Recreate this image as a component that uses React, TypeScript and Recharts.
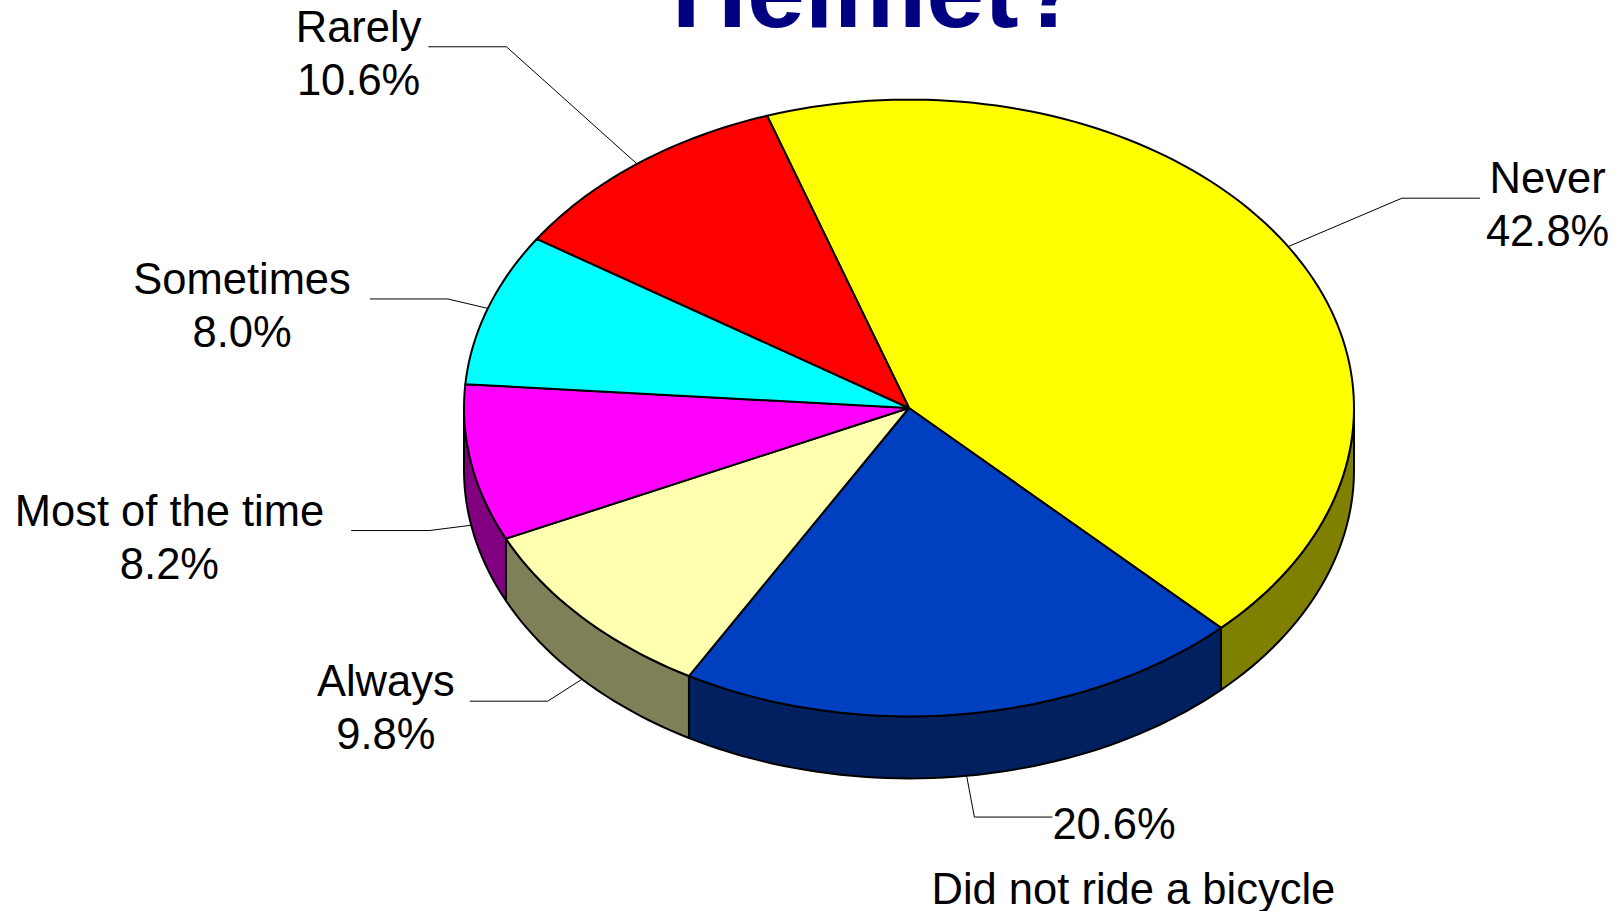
import { PieChart, Pie, Cell } from "recharts";

const categories = ["Never", "Did not ride a bicycle", "Always", "Most of the time", "Sometimes", "Rarely"];
const shares = [42.8, 20.6, 9.8, 8.2, 8.0, 10.6];
const topColors = ["#FFFF00", "#0040C0", "#FFFFB0", "#FF00FF", "#00FFFF", "#FF0000"];
const sideColors = ["#808000", "#002060", "#808058", "#800080", "#008080", "#800000"];

const data = categories.map((name, i) => ({ name, value: shares[i] }));

const W = 1617;
const H = 911;
const CX = 909;
const CY = 408;
const RX = 445;
const TILT = 0.693; // ry / rx of the tilted disc
const DEPTH = 62;
const START = 108.6;
const FONT = '"Liberation Sans", Arial, sans-serif';
const FS = 43.5;

// leader line layout: how far the line runs out past the rim, which side the text sits
const labelLayout = [
  { pull: 0.3, dir: 1, gap: 6, below: false },
  { pull: 0.135, dir: 1, gap: 0, below: true },
  { pull: 0.105, dir: -1, gap: 15, below: false },
  { pull: 0.096, dir: -1, gap: 27, below: false },
  { pull: 0.095, dir: -1, gap: 19, below: false },
  { pull: 0.48, dir: -1, gap: 7, below: false },
];

const RAD = Math.PI / 180;

function rim(cx: number, cy: number, r: number, deg: number, drop = 0): [number, number] {
  return [cx + r * Math.cos(deg * RAD), cy - r * TILT * Math.sin(deg * RAD) + drop];
}

function arc(cx: number, cy: number, r: number, from: number, to: number, drop = 0) {
  const n = Math.max(2, Math.ceil(Math.abs(to - from) / 1.5));
  const pts: [number, number][] = [];
  for (let i = 0; i <= n; i++) pts.push(rim(cx, cy, r, from + ((to - from) * i) / n, drop));
  return pts;
}

const toPath = (pts: [number, number][]) =>
  pts.map(([x, y], i) => `${i ? "L" : "M"}${x.toFixed(2)},${y.toFixed(2)}`).join(" ");

let ctx: CanvasRenderingContext2D | null = null;
function textWidth(s: string) {
  if (!ctx) ctx = document.createElement("canvas").getContext("2d");
  if (!ctx) return s.length * FS * 0.5;
  ctx.font = `${FS}px ${FONT}`;
  return ctx.measureText(s).width;
}

function sliceIndex(props: any) {
  const name = props.payload?.name ?? props.name;
  const i = categories.indexOf(name);
  return i >= 0 ? i : props.index ?? 0;
}

function Wedge3D(props: any) {
  const { cx, cy, outerRadius, startAngle, endAngle, fill } = props;
  const i = sliceIndex(props);
  const walls: string[] = [];
  const hiA = Math.max(startAngle, endAngle);
  const loA = Math.min(startAngle, endAngle);
  for (let k = -1; k <= 1; k++) {
    const lo = Math.max(loA, -180 + 360 * k);
    const hi = Math.min(hiA, 360 * k);
    if (hi - lo > 0.01) {
      const top = arc(cx, cy, outerRadius, hi, lo);
      const bottom = arc(cx, cy, outerRadius, lo, hi, DEPTH);
      walls.push(toPath([...top, ...bottom]) + " Z");
    }
  }
  const face = toPath([[cx, cy], ...arc(cx, cy, outerRadius, startAngle, endAngle)]) + " Z";
  return (
    <g>
      {walls.map((d, k) => (
        <path key={k} d={d} fill={sideColors[i]} stroke="#000" strokeWidth={2} strokeLinejoin="round" />
      ))}
      <path d={face} fill={fill} stroke="#000" strokeWidth={2} strokeLinejoin="round" />
    </g>
  );
}

function renderLabel(props: any) {
  const { cx, cy, outerRadius, midAngle, value } = props;
  const i = sliceIndex(props);
  const lay = labelLayout[i];
  const name = categories[i];
  const drop = Math.sin(midAngle * RAD) < 0 ? DEPTH : 0;
  const [ax, ay] = rim(cx, cy, outerRadius, midAngle, drop);
  const ex = ax + (ax - cx) * lay.pull;
  const ey = ay + (ay - (cy + drop)) * lay.pull;
  const lx = ex + lay.dir * 78;
  const pct = `${Number(value).toFixed(1)}%`;
  const line = (
    <polyline
      points={`${ax},${ay} ${ex},${ey} ${lx},${ey}`}
      fill="none"
      stroke="#000"
      strokeWidth={1}
    />
  );
  if (lay.below) {
    return (
      <g key={`lbl-${i}`}>
        {line}
        <text x={lx} y={ey + 22} fontFamily={FONT} fontSize={FS} fill="#000" textAnchor="start">
          {pct}
        </text>
        <text x={lx + 81} y={ey + 87} fontFamily={FONT} fontSize={FS} fill="#000" textAnchor="middle">
          {name}
        </text>
      </g>
    );
  }
  const maxW = Math.max(textWidth(name), textWidth(pct));
  const tx = lx + lay.dir * (lay.gap + maxW / 2);
  return (
    <g key={`lbl-${i}`}>
      {line}
      <text x={tx} y={ey - 5} fontFamily={FONT} fontSize={FS} fill="#000" textAnchor="middle">
        {name}
      </text>
      <text x={tx} y={ey + 48} fontFamily={FONT} fontSize={FS} fill="#000" textAnchor="middle">
        {pct}
      </text>
    </g>
  );
}

export default function App() {
  return (
    <div style={{ position: "absolute", left: 0, top: 0, width: W, height: H, background: "#fff", overflow: "hidden" }}>
      <PieChart width={W} height={H} margin={{ top: 0, right: 0, bottom: 0, left: 0 }}>
        <Pie
          data={data}
          dataKey="value"
          nameKey="name"
          cx={CX}
          cy={CY}
          innerRadius={0}
          outerRadius={RX}
          startAngle={START}
          endAngle={START - 360}
          stroke="#000"
          shape={Wedge3D}
          label={renderLabel}
          labelLine={false}
          isAnimationActive={false}
        >
          {data.map((_, i) => (
            <Cell key={i} fill={topColors[i]} />
          ))}
        </Pie>
      </PieChart>
      <svg width={W} height={60} style={{ position: "absolute", left: 0, top: 0, pointerEvents: "none" }}>
        <text x={877} y={27} fontFamily={FONT} fontSize={104} fontWeight="bold" fill="#000080" textAnchor="middle">
          Helmet?
        </text>
      </svg>
    </div>
  );
}
